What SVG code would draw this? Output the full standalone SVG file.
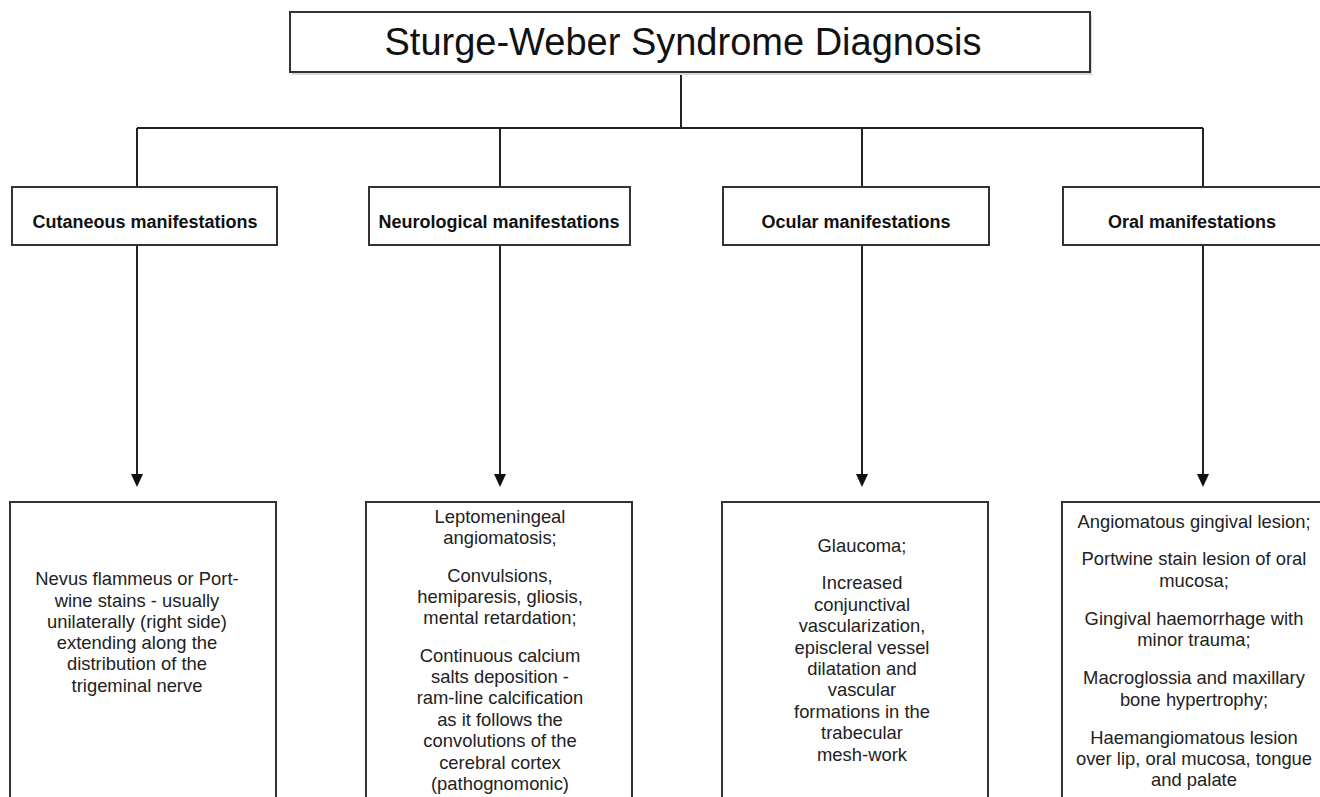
<svg xmlns="http://www.w3.org/2000/svg" width="1320" height="797" viewBox="0 0 1320 797">
<defs>
<style>
.box{fill:#fff;stroke:#333;stroke-width:2}
.sh{fill:#d8d8d8}
.conn{fill:none;stroke:#222;stroke-width:2}
.head{fill:#111}
.title{font-family:"Liberation Sans",Arial,sans-serif;font-size:38px;fill:#111;text-anchor:middle}
.cat{font-family:"Liberation Sans",Arial,sans-serif;font-size:18px;font-weight:bold;fill:#111;text-anchor:middle}
.body{font-family:"Liberation Sans",Arial,sans-serif;font-size:18.4px;fill:#222;text-anchor:middle}
</style>
</defs>
<rect width="1320" height="797" fill="#fff"/>
<g id="connectors">
<path class="conn" d="M681,72 V128 M137,128 H1203 M137,128 V187 M500,128 V187 M862,128 V187 M1203,128 V187"/>
<path class="conn" d="M137,245 V476 M500,245 V476 M862,245 V476 M1203,245 V476"/>
<polygon class="head" points="131,474 143,474 137,487"/>
<polygon class="head" points="494,474 506,474 500,487"/>
<polygon class="head" points="856,474 868,474 862,487"/>
<polygon class="head" points="1197,474 1209,474 1203,487"/>
</g>
<g id="title">
<rect class="sh" x="292" y="15" width="800" height="60"/>
<rect class="box" x="290" y="12" width="800" height="60"/>
<text class="title" x="683" y="55">Sturge-Weber Syndrome Diagnosis</text>
</g>
<g id="cutaneous">
<rect class="box" x="12" y="187" width="265" height="58"/>
<text class="cat" x="145" y="228">Cutaneous manifestations</text>
</g>
<g id="neurological">
<rect class="box" x="369" y="187" width="261" height="58"/>
<text class="cat" x="499" y="228">Neurological manifestations</text>
</g>
<g id="ocular">
<rect class="box" x="723" y="187" width="266" height="58"/>
<text class="cat" x="856" y="228">Ocular manifestations</text>
</g>
<g id="oral">
<rect class="box" x="1063" y="187" width="270" height="58"/>
<text class="cat" x="1192" y="228">Oral manifestations</text>
</g>
<g id="cutaneous-detail">
<rect class="box" x="10" y="502" width="266" height="310"/>
<text class="body" x="137" y="585">Nevus flammeus or Port-</text>
<text class="body" x="137" y="607">wine stains - usually</text>
<text class="body" x="137" y="628">unilaterally (right side)</text>
<text class="body" x="137" y="649">extending along the</text>
<text class="body" x="137" y="670">distribution of the</text>
<text class="body" x="137" y="692">trigeminal nerve</text>
</g>
<g id="neurological-detail">
<rect class="box" x="366" y="502" width="266" height="310"/>
<text class="body" x="500" y="523">Leptomeningeal</text>
<text class="body" x="500" y="544">angiomatosis;</text>
<text class="body" x="500" y="582">Convulsions,</text>
<text class="body" x="500" y="603">hemiparesis, gliosis,</text>
<text class="body" x="500" y="624">mental retardation;</text>
<text class="body" x="500" y="662">Continuous calcium</text>
<text class="body" x="500" y="683">salts deposition -</text>
<text class="body" x="500" y="704">ram-line calcification</text>
<text class="body" x="500" y="726">as it follows the</text>
<text class="body" x="500" y="747">convolutions of the</text>
<text class="body" x="500" y="769">cerebral cortex</text>
<text class="body" x="500" y="790">(pathognomonic)</text>
</g>
<g id="ocular-detail">
<rect class="box" x="722" y="502" width="266" height="310"/>
<text class="body" x="862" y="552">Glaucoma;</text>
<text class="body" x="862" y="589">Increased</text>
<text class="body" x="862" y="611">conjunctival</text>
<text class="body" x="862" y="632">vascularization,</text>
<text class="body" x="862" y="654">episcleral vessel</text>
<text class="body" x="862" y="675">dilatation and</text>
<text class="body" x="862" y="696">vascular</text>
<text class="body" x="862" y="718">formations in the</text>
<text class="body" x="862" y="739">trabecular</text>
<text class="body" x="862" y="761">mesh-work</text>
</g>
<g id="oral-detail">
<rect class="box" x="1062" y="502" width="270" height="310"/>
<text class="body" x="1194" y="528">Angiomatous gingival lesion;</text>
<text class="body" x="1194" y="565">Portwine stain lesion of oral</text>
<text class="body" x="1194" y="587">mucosa;</text>
<text class="body" x="1194" y="625">Gingival haemorrhage with</text>
<text class="body" x="1194" y="646">minor trauma;</text>
<text class="body" x="1194" y="684">Macroglossia and maxillary</text>
<text class="body" x="1194" y="706">bone hypertrophy;</text>
<text class="body" x="1194" y="744">Haemangiomatous lesion</text>
<text class="body" x="1194" y="765">over lip, oral mucosa, tongue</text>
<text class="body" x="1194" y="786">and palate</text>
</g>
</svg>
